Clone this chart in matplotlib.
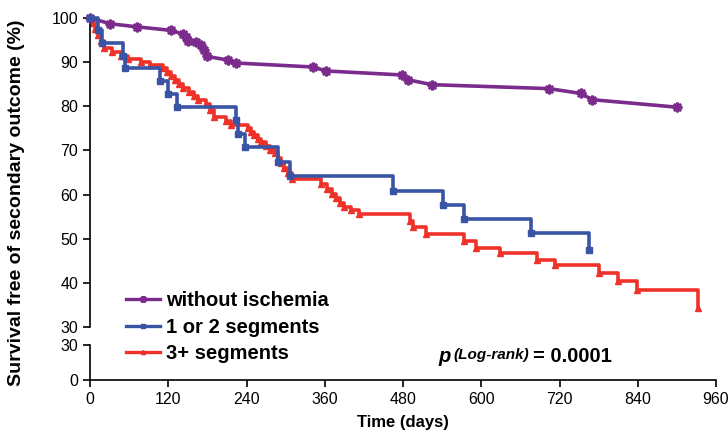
import numpy as np
import matplotlib
matplotlib.use('Agg')
import matplotlib.pyplot as plt
from matplotlib.lines import Line2D

plt.rcParams['font.family'] = ['Liberation Sans', 'DejaVu Sans']

# without ischemia (points joined by straight lines)
t_none = [0, 31, 72, 124, 142, 147, 150, 162, 170, 175, 179, 211, 224,
          342, 362, 478, 488, 524, 704, 753, 770, 900]
s_none = [100, 98.7, 98.0, 97.2, 96.4, 95.7, 94.9, 94.5, 93.8, 92.8, 91.3,
          90.5, 89.8, 88.9, 88.0, 87.1, 86.0, 84.9, 84.0, 82.9, 81.5, 79.8]

# 1 or 2 segments (Kaplan-Meier steps)
t_one = [0, 13, 18, 51, 53, 108, 119, 133, 224, 227, 237, 288, 306,
         465, 542, 574, 676, 766]
s_one = [100, 97.3, 94.3, 91.4, 88.6, 85.8, 82.7, 79.8, 76.9, 73.7, 70.7,
         67.4, 64.2, 60.9, 57.7, 54.5, 51.2, 47.5]

# 3+ segments
t_three = [0, 4, 8, 12, 17, 22, 33, 48, 58, 78, 92, 112, 118, 124, 130,
           136, 143, 152, 160, 166, 178, 184, 190, 208, 216, 242, 247, 252,
           258, 263, 270, 276, 283, 288, 293, 298, 304, 310, 355, 363, 371,
           378, 384, 389, 400, 413, 490, 496, 515, 574, 592, 628, 685, 713,
           780, 810, 839, 932]
s_three = [100, 98.8, 97.6, 96.2, 94.8, 93.2, 92.4, 91.5, 90.8, 90.0, 89.3,
           88.6, 87.7, 86.8, 85.9, 85.0, 84.1, 83.3, 82.4, 81.5, 80.5, 79.2,
           77.6, 76.6, 75.8, 75.0, 74.2, 73.4, 72.6, 71.8, 71.0, 70.2, 69.4,
           68.3, 67.2, 66.1, 65.0, 63.5, 62.4, 61.3, 60.2, 59.2, 58.2, 57.2,
           56.4, 55.6, 54.0, 52.6, 51.1, 49.5, 48.0, 46.7, 45.2, 44.1, 42.3,
           40.5, 38.3, 34.4]

labels = ['without ischemia', '1 or 2 segments', '3+ segments']
x_ticks = np.arange(0, 961, 120)

purple = '#7B2B8C'
blue = '#3A54A5'
red = '#EE3229'

W, H = 728, 441
fig = plt.figure(figsize=(W / 100, H / 100), dpi=100)
ax_top = fig.add_axes([90 / W, 1 - 327 / H, (716 - 90) / W, (327 - 18) / H])
ax_bot = fig.add_axes([90 / W, 1 - 380 / H, (716 - 90) / W, 35 / H])

ax_top.plot(t_none, s_none, color=purple, lw=2.6, marker=(8, 2, 0),
            ms=7, mew=1.8, clip_on=False, zorder=3)
ax_top.plot(t_one, s_one, color=blue, lw=2.6, drawstyle='steps-post',
            marker='s', ms=4.5, clip_on=False, zorder=4)
ax_top.plot(t_three, s_three, color=red, lw=2.6, drawstyle='steps-post',
            marker='^', ms=4, clip_on=False, zorder=2)

for ax in (ax_top, ax_bot):
    ax.set_xlim(0, 960)
    ax.spines['top'].set_visible(False)
    ax.spines['right'].set_visible(False)
    for sp in ax.spines.values():
        sp.set_linewidth(1.2)
    ax.tick_params(direction='out', length=5, width=1.2, labelsize=11.5)
    ax.patch.set_alpha(0)

ax_top.set_ylim(30, 100)
ax_top.set_yticks(np.arange(30, 101, 10))
ax_top.spines['bottom'].set_visible(False)
ax_top.set_xticks([])

ax_bot.set_ylim(0, 30)
ax_bot.set_yticks([0, 30])
ax_bot.set_xticks(x_ticks)
ax_bot.set_xlabel('Time (days)', fontsize=12, fontweight='bold', labelpad=6)

fig.text(17 / W, 1 - 203 / H, 'Survival free of secondary outcome (%)',
         rotation=90, ha='center', va='center', fontsize=14,
         fontweight='bold')

# legend handles drawn smaller, like the spreadsheet legend
handles = [Line2D([], [], color=purple, lw=2.4, marker=(8, 2, 0), ms=5,
                  mew=1.4),
           Line2D([], [], color=blue, lw=2.4, marker='s', ms=3.5),
           Line2D([], [], color=red, lw=2.4, marker='^', ms=3)]
fig.legend(handles, labels, loc='upper left',
           bbox_to_anchor=(126 / W, 1 - 291 / H), frameon=False,
           prop=dict(weight='bold', size=14.5), handlelength=1.7,
           handletextpad=0.28, labelspacing=0.38, borderpad=0,
           borderaxespad=0, numpoints=1)

fig.text(438 / W, 1 - 362 / H, 'p', fontsize=14.5, fontweight='bold',
         style='italic', ha='left', va='baseline')
fig.text(453 / W, 1 - 359 / H, '(Log-rank)', fontsize=11,
         fontweight='bold', style='italic', ha='left', va='baseline')
fig.text(533 / W, 1 - 362 / H, '= 0.0001', fontsize=14.5, fontweight='bold',
         ha='left', va='baseline')

fig.savefig('out.png', dpi=100)
